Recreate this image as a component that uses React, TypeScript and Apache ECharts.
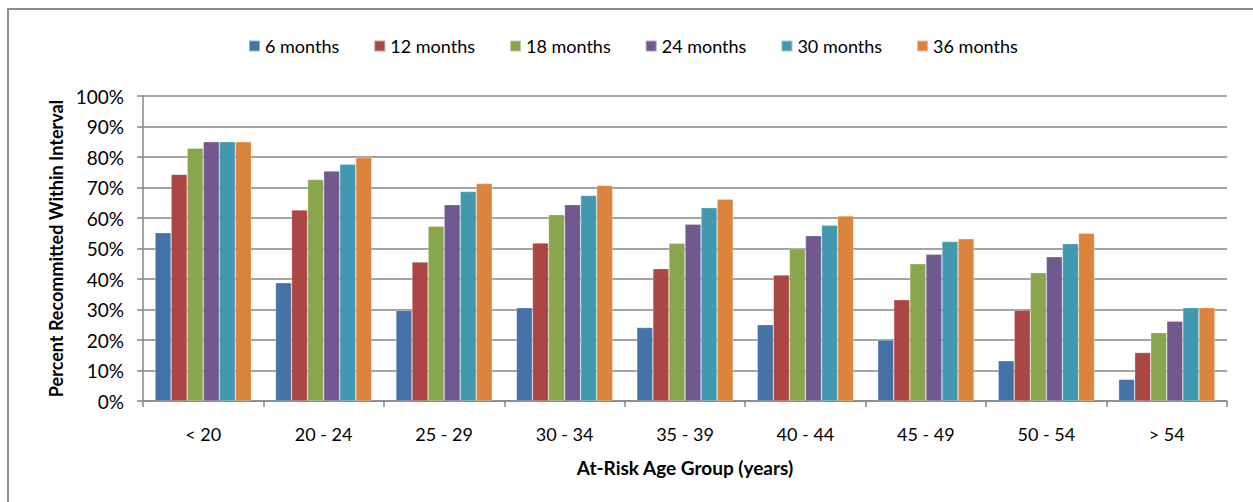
import React, { useEffect, useRef } from "react";
import * as echarts from "echarts";

const categories = ["< 20", "20 - 24", "25 - 29", "30 - 34", "35 - 39", "40 - 44", "45 - 49", "50 - 54", "> 54"];
const seriesNames = ["6 months", "12 months", "18 months", "24 months", "30 months", "36 months"];
const colors = ["#4572a7", "#aa4643", "#89a54e", "#71588f", "#4198af", "#db843d"];
const m6 = [55.2, 38.8, 29.7, 30.6, 24.1, 25.0, 20.0, 13.2, 7.1];
const m12 = [74.3, 62.6, 45.6, 51.8, 43.4, 41.3, 33.2, 29.8, 15.9];
const m18 = [82.9, 72.6, 57.3, 61.1, 51.7, 50.0, 45.0, 42.1, 22.4];
const m24 = [85.0, 75.4, 64.4, 64.4, 58.0, 54.2, 48.1, 47.3, 26.2];
const m30 = [85.0, 77.6, 68.7, 67.4, 63.4, 57.6, 52.3, 51.6, 30.6];
const m36 = [85.0, 79.8, 71.3, 70.7, 66.2, 60.7, 53.2, 55.0, 30.6];
const seriesValues = [m6, m12, m18, m24, m30, m36];

const FONT = "Lato, 'Noto Sans', sans-serif";

export default function App() {
  const ref = useRef<HTMLDivElement>(null);
  useEffect(() => {
    if (!ref.current) return;
    const chart = echarts.init(ref.current, null, { renderer: "svg" });
    chart.setOption({
      animation: false,
      textStyle: { fontFamily: FONT },
      legend: {
        left: 243,
        top: 32,
        itemWidth: 11,
        itemHeight: 11,
        itemGap: 34,
        icon: "rect",
        textStyle: { fontSize: 18, color: "#000", fontFamily: FONT },
        data: seriesNames,
      },
      grid: { left: 143, top: 96, right: 26, bottom: 101, containLabel: false },
      xAxis: {
        type: "category",
        data: categories,
        name: "At-Risk Age Group (years)",
        nameLocation: "middle",
        nameGap: 57,
        nameTextStyle: { fontSize: 19, fontWeight: "bold", color: "#000", fontFamily: FONT },
        axisLine: { lineStyle: { color: "#868686", width: 1.5 } },
        axisTick: { show: true, length: 6, lineStyle: { color: "#868686", width: 1.5 } },
        axisLabel: { fontSize: 18, color: "#000", margin: 24, fontFamily: FONT },
      },
      yAxis: {
        type: "value",
        min: 0,
        max: 100,
        interval: 10,
        name: "Percent Recommitted Within Interval",
        nameLocation: "middle",
        nameGap: 76,
        nameTextStyle: { fontSize: 18, fontWeight: "bold", color: "#000", fontFamily: FONT },
        axisLine: { show: true, lineStyle: { color: "#868686", width: 1.5 } },
        axisTick: { show: true, length: 6, lineStyle: { color: "#868686", width: 1.5 } },
        axisLabel: { fontSize: 19, color: "#000", margin: 19, formatter: "{value}%", fontFamily: FONT },
        splitLine: { show: true, lineStyle: { color: "#868686", width: 1.5 } },
      },
      series: seriesNames.map((name, i) => ({
        name,
        type: "bar",
        data: seriesValues[i],
        barGap: "0%",
        barCategoryGap: "20%",
        itemStyle: { color: colors[i], borderColor: "rgba(255,255,255,0.45)", borderWidth: 0.6 },
      })),
    });
    return () => chart.dispose();
  }, []);
  return (
    <>
      <div
        style={{
          position: "fixed",
          left: 7,
          top: 8,
          width: 1300,
          height: 600,
          border: "2px solid #8c8c8c",
          boxSizing: "border-box",
          background: "#fff",
        }}
      />
      <div ref={ref} style={{ position: "fixed", left: 0, top: 0, width: 1253, height: 502 }} />
    </>
  );
}
